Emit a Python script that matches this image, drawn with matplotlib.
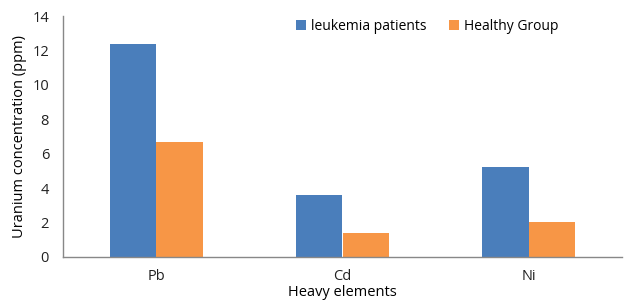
import numpy as np
import matplotlib.pyplot as plt

plt.rcParams['font.family'] = ['Open Sans', 'DejaVu Sans']

elements = ['Pb', 'Cd', 'Ni']
leukemia = [12.4, 3.6, 5.2]
healthy = [6.7, 1.4, 2.05]

fig = plt.figure(figsize=(6.39, 3.03), dpi=100)
ax = fig.add_axes([63/639, 1 - 257/303, (622-63)/639, (257-16)/303])

x = np.arange(len(elements))
w = 0.25
ax.bar(x - w/2, leukemia, w, color='#4a7ebb', label='leukemia patients')
ax.bar(x + w/2, healthy, w, color='#f79646', label='Healthy Group')

fs = 10.5
ax.set_xlim(-0.5, 2.5)
ax.set_ylim(0, 14)
ax.set_yticks(range(0, 15, 2))
ax.set_xticks(x)
ax.set_xticklabels(elements)
ax.tick_params(length=0, labelsize=fs, colors='#222222')
ax.tick_params(axis='x', pad=9)
ax.tick_params(axis='y', pad=10)
for s in ['top', 'right']:
    ax.spines[s].set_visible(False)
for s in ['left', 'bottom']:
    ax.spines[s].set_color('#888888')
    ax.spines[s].set_linewidth(1)

ax.set_xlabel('Heavy elements', fontsize=fs, labelpad=0)
ax.set_ylabel('Uranium concentration (ppm)', fontsize=fs, labelpad=4)

ax.legend(loc='upper center', bbox_to_anchor=(0.652, 1.04), ncol=2, frameon=False,
          fontsize=10, handlelength=0.7, handleheight=0.7, handletextpad=0.4,
          columnspacing=1.6)

fig.savefig('out.png', dpi=100)
